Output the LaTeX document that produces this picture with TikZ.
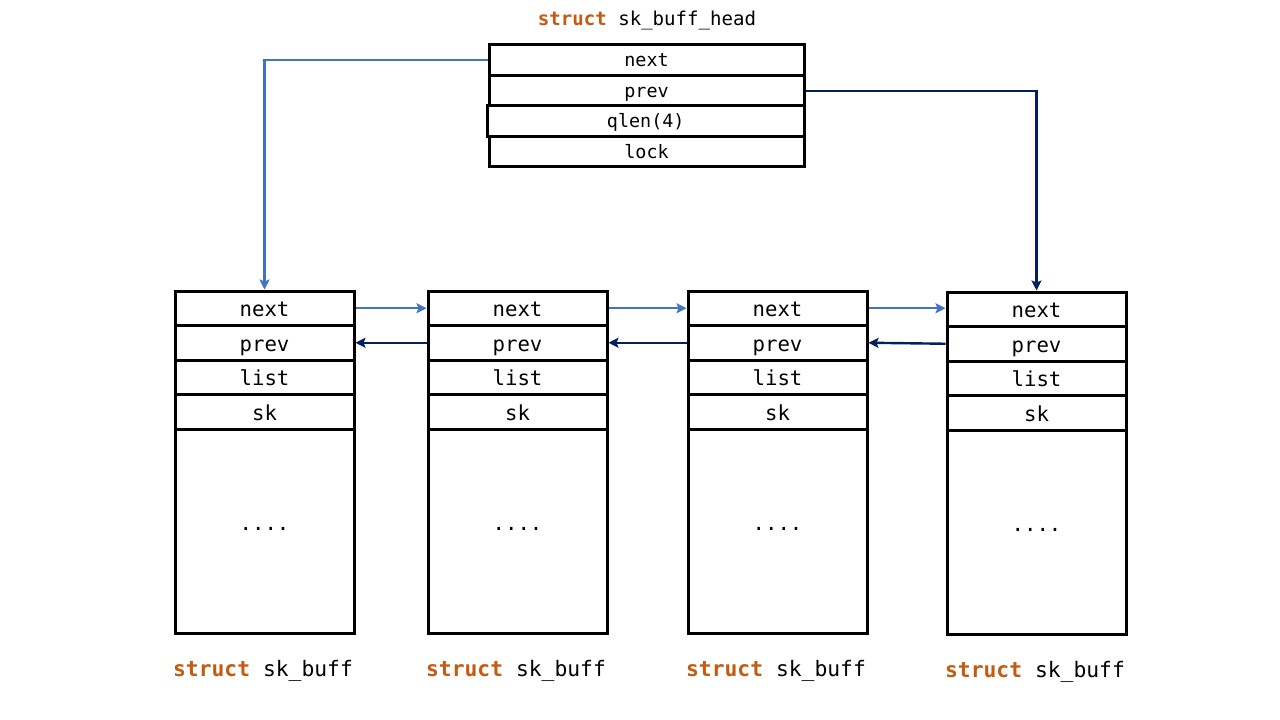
\documentclass[tikz,border=0pt]{standalone}
\usepackage{fontspec}
\usetikzlibrary{arrows.meta}
\newfontfamily\code{DejaVu Sans Mono}
\definecolor{kw}{HTML}{C55A11}
\definecolor{lblue}{HTML}{4472C4}
\definecolor{navy}{HTML}{002060}
\begin{document}
\begin{tikzpicture}[x=0.75pt,y=-0.75pt,
  cell/.style={draw=black,line width=2.25pt,inner sep=0pt,minimum width=134.25pt,minimum height=25.875pt,text height=13pt,text depth=0pt,font=\code\fontsize{15.5}{18}\selectfont},
  hcell/.style={draw=black,line width=2.25pt,inner sep=0pt,minimum width=236.25pt,minimum height=22.875pt,text height=11.5pt,text depth=1.75pt,font=\code\fontsize{13.8}{16}\selectfont},
  body/.style={draw=black,line width=2.25pt,inner sep=0pt,minimum width=134.25pt,minimum height=153pt},
  lab/.style={font=\code\fontsize{16}{19}\selectfont,inner sep=0pt,text height=12.7pt,text depth=1pt},
  hlab/.style={font=\code\fontsize{14.3}{17}\selectfont,inner sep=0pt,text height=11.3pt,text depth=2pt},
  dots/.style={font=\code\fontsize{15.5}{18}\selectfont,inner sep=0pt,anchor=base},
  nextarr/.style={draw=lblue,line width=1.8pt,-{Stealth[length=7.5pt,width=7.5pt,inset=1.5pt]}},
  prevarr/.style={draw=navy,line width=1.8pt,-{Stealth[length=7.5pt,width=7.5pt,inset=1.5pt]}}]
\useasboundingbox (0,0) rectangle (1280,720);
% head
\node[hlab] (hl) at (647,19) {\textbf{\color{kw}struct} sk\_buff\_head};
\node[hcell] (hn) at (646.5,60.25) {next};
\node[hcell] (hp) at (646.5,90.75) {prev};
\node[hcell,minimum width=237.4pt] (hq) at (645.75,121.25) {qlen(4)};
\node[hcell] (hk) at (646.5,151.75) {lock};
% buffers
\foreach \i/\cx/\dy in {1/264.5/0,2/517.5/0,3/777.5/0,4/1036.5/1}{
  \node[cell] (n\i) at (\cx,308.25+\dy) {next};
  \node[cell] (p\i) at (\cx,342.75+\dy) {prev};
  \node[cell] (l\i) at (\cx,377.25+\dy) {list};
  \node[cell] (s\i) at (\cx,411.75+\dy) {sk};
  \node[body] (b\i) at (\cx,531+\dy) {};
  \node[dots] (d\i) at (\cx,530+\dy) {....};
  \node[lab] (t\i) at (\cx-1.5,669+\dy) {\textbf{\color{kw}struct} sk\_buff};
}
% connectors
\draw[nextarr] (hn.west) -| (n1.north);
\draw[prevarr] (hp.east) -| (n4.north);
\draw[nextarr] (n1.east) -- (n2.west);
\draw[nextarr] (n2.east) -- (n3.west);
\draw[nextarr] (n3.east) -- (n4.west |- n3.east);
\draw[prevarr] (p2.west) -- (p1.east);
\draw[prevarr] (p3.west) -- (p2.east);
\draw[prevarr] (p4.west) -- (p3.east);
\end{tikzpicture}
\end{document}
